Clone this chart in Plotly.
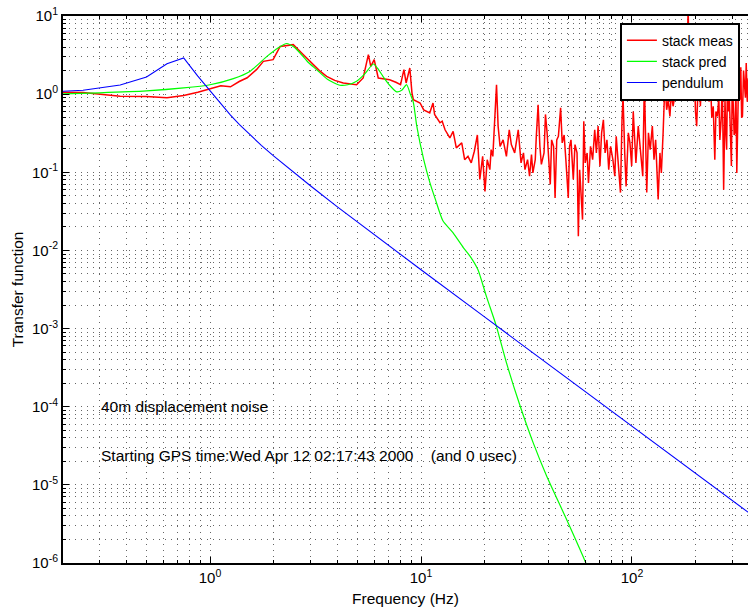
import plotly.graph_objects as go

# ---------------- data ----------------
red_f = [0.125, 0.25, 0.375, 0.5, 0.625, 0.75, 0.875, 1.0, 1.125, 1.25, 1.375, 1.5, 1.66, 1.79, 1.99,
         2.15, 2.3, 2.48, 2.77, 3.08, 3.3, 3.57, 3.9, 4.28, 4.6, 4.95, 5.32, 5.63, 5.78, 6.0, 6.27,
         6.7, 7.1, 7.6, 8.0, 8.3, 8.5, 8.85, 9.06, 9.2, 9.5, 9.9, 10.3, 11.0, 11.4, 11.6, 12.3, 12.6,
         13.0, 13.7, 14.2, 14.7, 15.6, 16.1, 16.7, 17.3, 17.9, 18.5, 19.0, 19.6, 20.1, 20.6, 21.2,
         21.5, 21.9, 22.8, 23.2, 23.7, 24.5, 25.4, 26.2, 26.8, 27.8, 28.9, 29.8, 30.6, 31.1, 32.0,
         32.7, 33.4, 33.9, 34.8, 35.2, 35.9, 36.6, 37.2, 38.3, 38.9, 39.6, 40.3, 41.0, 41.6, 42.5,
         43.2, 44.0, 44.8, 45.9, 46.7, 47.7, 48.6, 49.9, 50.6, 51.4, 52.7, 53.7, 54.9, 55.7, 56.5,
         57.4, 58.3, 59.1, 60.0, 61.3, 62.2, 63.6, 65.1, 66.6, 67.8, 69.1, 70.5, 71.8, 73.2, 74.6,
         76.1, 77.6, 79.2, 81.2, 82.9, 84.2, 85.9, 88.2, 89.7, 90.7, 92.4, 93.8, 96.1, 97.8, 99.7,
         101.4, 104.4, 107.1, 109.6, 112.5, 114.5, 115.8, 117.5, 119.7, 122.0, 124.9, 127.2, 129.5,
         131.7, 133.1, 135.7, 137.8, 140.5, 143.3, 146.0, 148.5, 151.3, 153.7, 156.6, 161.6, 166.5,
         168.9, 172.5, 175.0, 178.6, 181.6, 184.5, 188.2, 191, 194, 197, 200, 202.6, 205, 208, 211,
         214, 217, 220, 223, 226, 229, 232, 235, 239, 242.8, 245, 247, 250, 254, 258, 261, 265, 268,
         272, 276, 279, 281, 284, 287, 289, 292, 296, 299, 302, 305, 307.6, 311, 314, 317, 320, 325,
         328, 331, 334, 338, 342, 345, 348, 352, 356]
red_v = [1.07, 1.05, 0.94, 0.93, 0.90, 0.96, 1.06, 1.17, 1.28, 1.24, 1.45, 1.62, 2.06, 2.63, 2.76,
         4.08, 4.2, 4.3, 3.2, 2.38, 2.0, 1.69, 1.5, 1.39, 1.35, 1.32, 1.61, 3.2, 2.27, 2.76, 1.61,
         1.58, 1.53, 1.42, 1.32, 2.06, 1.39, 2.16, 1.04, 0.85, 0.82, 0.77, 0.63, 0.575, 0.77, 0.55,
         0.43, 0.45, 0.35, 0.275, 0.334, 0.205, 0.238, 0.145, 0.16, 0.132, 0.186, 0.30, 0.081, 0.16,
         0.057, 0.145, 0.108, 0.195, 0.16, 1.32, 0.39, 0.215, 0.26, 0.16, 0.35, 0.226, 0.177, 0.35,
         0.132, 0.177, 0.108, 0.145, 0.089, 0.168, 0.098, 0.145, 0.288, 0.73, 0.215, 0.126, 0.177,
         0.55, 0.32, 0.145, 0.07, 0.26, 0.215, 0.047, 0.26, 0.288, 0.667, 0.238, 0.30, 0.145, 0.047,
         0.215, 0.26, 0.081, 0.226, 0.177, 0.0152, 0.108, 0.0448, 0.0248, 0.45, 0.132, 0.177, 0.073,
         0.215, 0.145, 0.35, 0.177, 0.39, 0.12, 0.32, 0.47, 0.177, 0.26, 0.108, 0.215, 0.145, 0.089,
         0.288, 0.132, 0.055, 0.47, 0.94, 0.177, 0.066, 0.32, 0.238, 0.12, 0.6, 0.132, 0.39, 0.195,
         0.089, 1.5, 0.39, 0.055, 0.32, 0.195, 0.39, 0.145, 0.26, 0.098, 0.0448, 0.177, 0.098, 0.32,
         1.45, 0.63, 0.85, 0.52, 1.04, 0.70, 1.14, 0.85, 1.6, 1.14, 1.6, 0.85, 1.25, 12.0, 1.39, 3.5,
         0.9, 2.5, 0.6, 0.39, 1.2, 2.8, 0.7, 1.6, 0.85, 3.0, 1.0, 1.39, 2.5, 0.8, 1.8, 0.5, 0.70,
         0.25, 0.145, 0.6, 0.52, 0.9, 0.26, 0.5, 1.6, 0.06, 0.85, 0.3, 0.195, 2.0, 0.6, 1.04, 0.4,
         0.12, 1.8, 0.5, 0.3, 0.32, 1.2, 0.098, 0.4, 1.5, 0.85, 2.2, 0.5, 0.52, 2.0, 1.39, 0.9, 2.5,
         0.8, 1.6]

green_f = [0.125, 0.2, 0.3, 0.5, 0.75, 1.0, 1.29, 1.55, 1.86, 2.1, 2.31, 2.5, 2.67, 2.9, 3.2, 3.6,
           4.13, 4.5, 4.95, 5.4, 5.95, 6.3, 6.6, 7.1, 7.67, 8.1, 8.55, 8.9, 9.2, 9.55, 10.3, 11.0,
           11.7, 12.7, 14.2, 15.9, 17.1, 18.6, 20.4, 22.7, 25.4, 29.5, 34.0, 39.4, 49.0, 59.9, 65.0]
green_v = [1.0, 1.01, 1.04, 1.1, 1.2, 1.32, 1.58, 1.97, 3.04, 3.9, 4.45, 4.0, 3.36, 2.6, 2.06, 1.55,
           1.3, 1.32, 1.46, 1.8, 2.43, 2.05, 1.69, 1.3, 1.07, 1.12, 1.32, 1.0, 0.78, 0.39, 0.145,
           0.075, 0.045, 0.024, 0.0168, 0.0108, 0.0084, 0.0057, 0.0026, 0.0011, 3.66e-4, 1.02e-4,
           3.47e-5, 1.3e-5, 3.6e-6, 1.06e-6, 6e-7]

blue_f = [0.125, 0.25, 0.375, 0.5, 0.625, 0.75, 0.875, 1.0, 1.125, 1.25, 1.375, 1.5, 1.75, 2.0, 2.5,
          3.0, 4.0, 5.0, 7.0, 10.0, 20.0, 50.0, 100.0, 200.0, 400.0]
blue_v = [1.03, 1.12, 1.31, 1.66, 2.45, 2.91, 1.7, 1.11, 0.75, 0.54, 0.41, 0.325, 0.221, 0.162,
          0.099, 0.0667, 0.0364, 0.023, 0.0116, 0.00566, 0.00141, 2.25e-4, 5.63e-5, 1.41e-5, 3.52e-6]

series_names = ["stack meas", "stack pred", "pendulum"]

x_tickvals = [1, 10, 100]
x_ticktext = ["10<sup>0</sup>", "10<sup>1</sup>", "10<sup>2</sup>"]
y_tickvals = [1e-6, 1e-5, 1e-4, 1e-3, 1e-2, 1e-1, 1e0, 1e1]
y_ticktext = ["10<sup>-6</sup>", "10<sup>-5</sup>", "10<sup>-4</sup>", "10<sup>-3</sup>",
              "10<sup>-2</sup>", "10<sup>-1</sup>", "10<sup>0</sup>", "10<sup>1</sup>"]
x_minor = [m * 10.0 ** e for e in (-1, 0, 1, 2) for m in range(2, 10)]
y_minor = [m * 10.0 ** e for e in range(-6, 1) for m in range(2, 10)]

note1 = "40m displacement noise"
note2 = "Starting GPS time:Wed Apr 12 02:17:43 2000\u00a0\u00a0\u00a0\u00a0(and 0 usec)"

# ---------------- figure ----------------
FONT = "Liberation Sans, Arial, Helvetica, sans-serif"
TXT = 15.5
fig = go.Figure()
fig.add_trace(go.Scatter(x=red_f, y=red_v, mode="lines", name=series_names[0],
                         line=dict(color="#ff0000", width=1.5)))
fig.add_trace(go.Scatter(x=green_f, y=green_v, mode="lines", name=series_names[1],
                         line=dict(color="#00ff00", width=1.2, shape="spline", smoothing=0.6)))
fig.add_trace(go.Scatter(x=blue_f, y=blue_v, mode="lines", name=series_names[2],
                         line=dict(color="#0000ff", width=1.1)))

GRIDC = "#666666"
GRIDD = "1px,5px"

fig.update_xaxes(type="log", range=[-0.697, 2.550], tickmode="array", tickvals=x_tickvals,
                 ticktext=x_ticktext, ticks="inside", ticklen=6, tickcolor="black",
                 showline=True, linecolor="black", linewidth=2, mirror="ticks", zeroline=False,
                 showgrid=True, gridcolor=GRIDC, gridwidth=1, griddash=GRIDD,
                 tickfont=dict(family=FONT, size=15, color="black"),
                 title=dict(text="Frequency (Hz)", font=dict(family=FONT, size=TXT, color="black"),
                            standoff=8),
                 minor=dict(tickmode="array", tickvals=x_minor, ticks="inside", ticklen=3,
                            tickcolor="black", showgrid=True, gridcolor=GRIDC, gridwidth=1,
                            griddash=GRIDD))
fig.update_yaxes(type="log", range=[-6, 1], tickmode="array", tickvals=y_tickvals,
                 ticktext=y_ticktext, ticks="inside", ticklen=6, tickcolor="black",
                 showline=True, linecolor="black", linewidth=2, mirror=False, zeroline=False,
                 showgrid=True, gridcolor=GRIDC, gridwidth=1, griddash=GRIDD,
                 tickfont=dict(family=FONT, size=15, color="black"),
                 title=dict(text="Transfer function", font=dict(family=FONT, size=TXT, color="black"),
                            standoff=5),
                 minor=dict(tickmode="array", tickvals=y_minor, ticks="inside", ticklen=3,
                            tickcolor="black", showgrid=True, gridcolor=GRIDC, gridwidth=1,
                            griddash=GRIDD))

fig.add_annotation(x=0.052, y=0.286, xref="paper", yref="paper", text=note1, showarrow=False,
                   xanchor="left", yanchor="middle", font=dict(family=FONT, size=TXT, color="black"))
fig.add_annotation(x=0.052, y=0.197, xref="paper", yref="paper", text=note2, showarrow=False,
                   xanchor="left", yanchor="middle", font=dict(family=FONT, size=TXT, color="black"))

fig.update_layout(
    width=748, height=613,
    margin=dict(l=63, r=0, t=16, b=50, autoexpand=False),
    paper_bgcolor="white", plot_bgcolor="white",
    font=dict(family=FONT, size=TXT, color="black"),
    showlegend=True,
    legend=dict(x=0.813, y=0.988, xanchor="left", yanchor="top", bgcolor="white",
                bordercolor="black", borderwidth=2, font=dict(family=FONT, size=14, color="black"),
                tracegroupgap=0, itemwidth=30, entrywidthmode="pixels", entrywidth=140),
)

fig.write_html("out.html", config={"displayModeBar": False},
               post_script="document.body.style.margin='0px';")
